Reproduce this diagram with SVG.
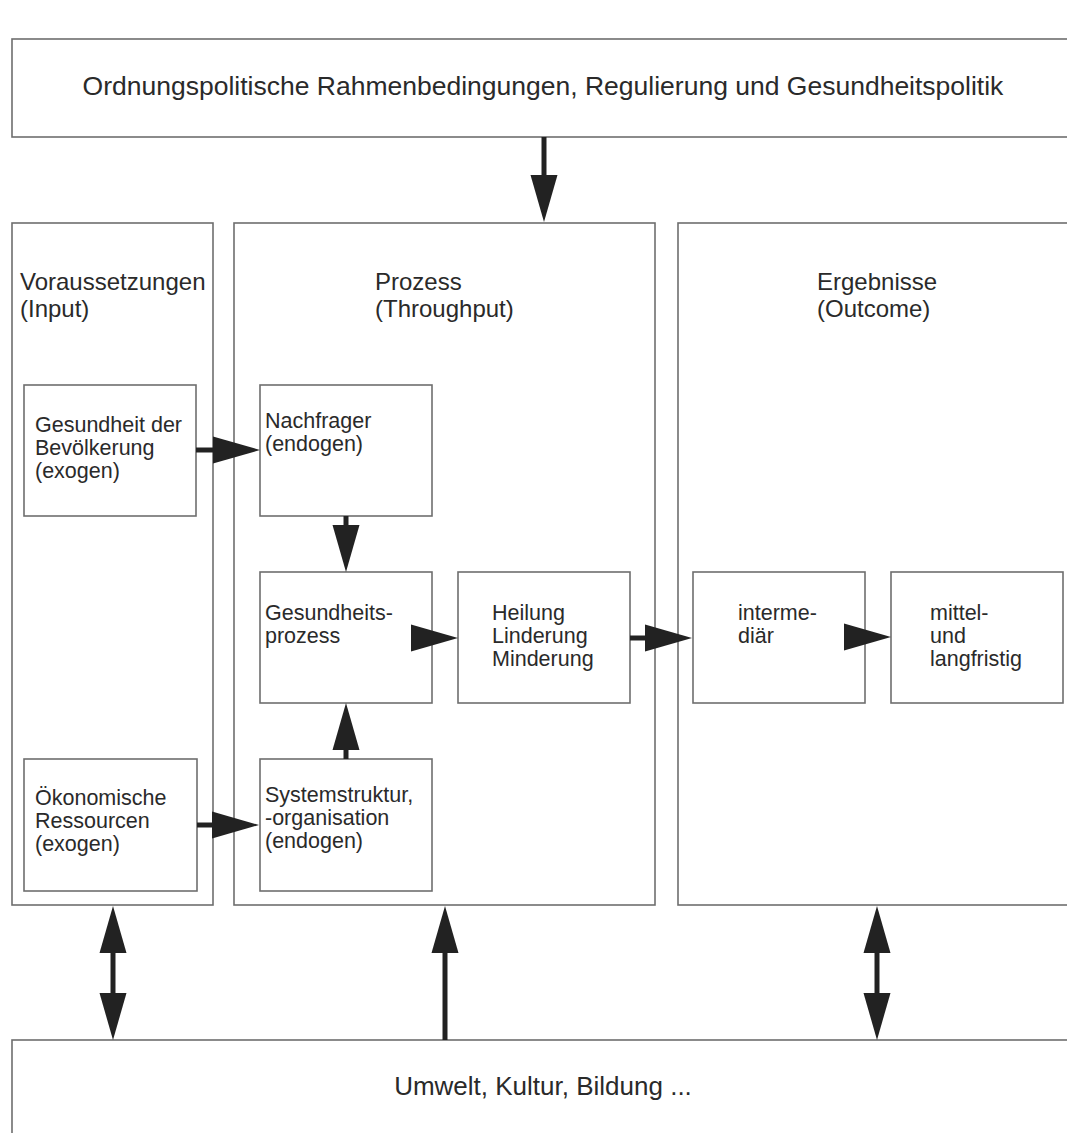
<svg xmlns="http://www.w3.org/2000/svg" xmlns:xlink="http://www.w3.org/1999/xlink" width="1067" height="1133" viewBox="0 0 1067 1133">
<style>
.box{fill:#fff;stroke:#6e6e6e;stroke-width:1.6}
.t{font-family:"Liberation Sans",Arial,sans-serif;fill:#2a2a2a}
.title{font-size:26.5px}
.sub{font-size:26px}
.head{font-size:24px}
.n{font-size:21.5px}
.shaft{stroke:#222;stroke-width:5;fill:none}
.ah{fill:#222}
</style>
<defs>
<path id="hd" d="M0,-13.5 L47,0 L0,13.5 z"/>
</defs>
<rect width="1067" height="1133" fill="#fff"/>

<g id="top">
<rect class="box" x="12" y="39" width="1070" height="98"/>
<text class="t title" x="543" y="95" text-anchor="middle">Ordnungspolitische Rahmenbedingungen, Regulierung und Gesundheitspolitik</text>
</g>

<g id="input">
<rect class="box" x="12" y="223" width="201" height="682"/>
<text class="t head" x="20" y="290">Voraussetzungen</text>
<text class="t head" x="20" y="317">(Input)</text>
</g>

<g id="process">
<rect class="box" x="234" y="223" width="421" height="682"/>
<text class="t head" x="375" y="290">Prozess</text>
<text class="t head" x="375" y="317">(Throughput)</text>
</g>

<g id="outcome">
<rect class="box" x="678" y="223" width="400" height="682"/>
<text class="t head" x="817" y="290">Ergebnisse</text>
<text class="t head" x="817" y="317">(Outcome)</text>
</g>

<g id="bottom">
<rect class="box" x="12" y="1040" width="1070" height="120"/>
<text class="t sub" x="543" y="1095" text-anchor="middle">Umwelt, Kultur, Bildung ...</text>
</g>

<g id="gesundheit">
<rect class="box" x="24" y="385" width="172" height="131"/>
<text class="t n" x="35" y="432">Gesundheit der</text>
<text class="t n" x="35" y="455">Bevölkerung</text>
<text class="t n" x="35" y="478">(exogen)</text>
</g>

<g id="nachfrager">
<rect class="box" x="260" y="385" width="172" height="131"/>
<text class="t n" x="265" y="428">Nachfrager</text>
<text class="t n" x="265" y="451">(endogen)</text>
</g>

<g id="gesundheitsprozess">
<rect class="box" x="260" y="572" width="172" height="131"/>
<text class="t n" x="265" y="620">Gesundheits-</text>
<text class="t n" x="265" y="643">prozess</text>
</g>

<g id="heilung">
<rect class="box" x="458" y="572" width="172" height="131"/>
<text class="t n" x="492" y="620">Heilung</text>
<text class="t n" x="492" y="643">Linderung</text>
<text class="t n" x="492" y="666">Minderung</text>
</g>

<g id="intermediaer">
<rect class="box" x="693" y="572" width="172" height="131"/>
<text class="t n" x="738" y="620">interme-</text>
<text class="t n" x="738" y="643">diär</text>
</g>

<g id="mittel">
<rect class="box" x="891" y="572" width="172" height="131"/>
<text class="t n" x="930" y="620">mittel-</text>
<text class="t n" x="930" y="643">und</text>
<text class="t n" x="930" y="666">langfristig</text>
</g>

<g id="oekonomische">
<rect class="box" x="24" y="759" width="173" height="132"/>
<text class="t n" x="35" y="805">Ökonomische</text>
<text class="t n" x="35" y="828">Ressourcen</text>
<text class="t n" x="35" y="851">(exogen)</text>
</g>

<g id="systemstruktur">
<rect class="box" x="260" y="759" width="172" height="132"/>
<text class="t n" x="265" y="802">Systemstruktur,</text>
<text class="t n" x="265" y="825">-organisation</text>
<text class="t n" x="265" y="848">(endogen)</text>
</g>

<g id="connectors">
<!-- top -> process -->
<line class="shaft" x1="544" y1="137" x2="544" y2="177"/>
<use class="ah" xlink:href="#hd" transform="translate(544,175) rotate(90)"/>
<!-- gesundheit -> nachfrager -->
<line class="shaft" x1="196" y1="450" x2="215" y2="450"/>
<use class="ah" xlink:href="#hd" transform="translate(213,450)"/>
<!-- nachfrager -> gesundheitsprozess -->
<line class="shaft" x1="346" y1="516" x2="346" y2="527"/>
<use class="ah" xlink:href="#hd" transform="translate(346,525) rotate(90)"/>
<!-- gesundheitsprozess -> heilung -->
<use class="ah" xlink:href="#hd" transform="translate(411,638)"/>
<!-- heilung -> intermediaer -->
<line class="shaft" x1="630" y1="638" x2="647" y2="638"/>
<use class="ah" xlink:href="#hd" transform="translate(645,638)"/>
<!-- intermediaer -> mittel -->
<use class="ah" xlink:href="#hd" transform="translate(844,637)"/>
<!-- oekonomische -> systemstruktur -->
<line class="shaft" x1="197" y1="825" x2="214" y2="825"/>
<use class="ah" xlink:href="#hd" transform="translate(212,825)"/>
<!-- systemstruktur -> gesundheitsprozess -->
<line class="shaft" x1="346" y1="759" x2="346" y2="748"/>
<use class="ah" xlink:href="#hd" transform="translate(346,750) rotate(-90)"/>
<!-- input <-> bottom -->
<line class="shaft" x1="113" y1="951" x2="113" y2="995"/>
<use class="ah" xlink:href="#hd" transform="translate(113,953) rotate(-90)"/>
<use class="ah" xlink:href="#hd" transform="translate(113,993) rotate(90)"/>
<!-- bottom -> process -->
<line class="shaft" x1="445" y1="951" x2="445" y2="1040"/>
<use class="ah" xlink:href="#hd" transform="translate(445,953) rotate(-90)"/>
<!-- outcome <-> bottom -->
<line class="shaft" x1="877" y1="951" x2="877" y2="995"/>
<use class="ah" xlink:href="#hd" transform="translate(877,953) rotate(-90)"/>
<use class="ah" xlink:href="#hd" transform="translate(877,993) rotate(90)"/>
</g>
</svg>
